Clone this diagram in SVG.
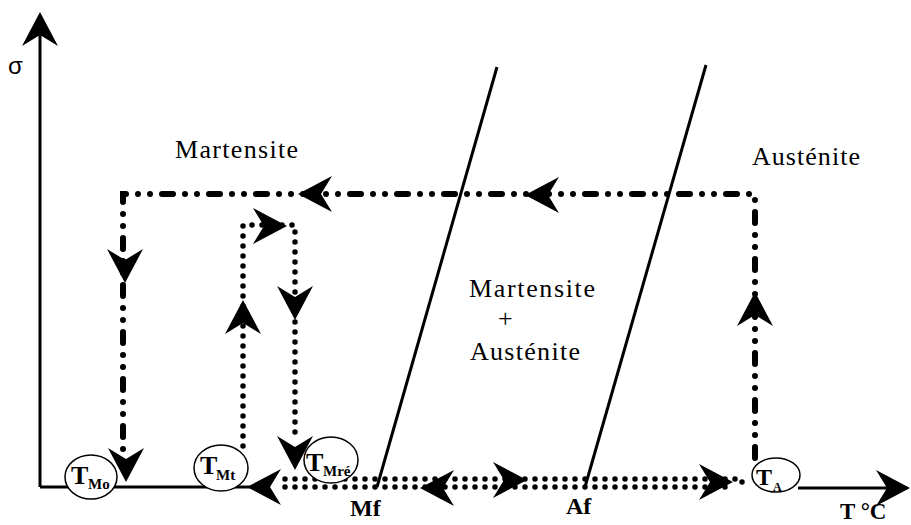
<svg xmlns="http://www.w3.org/2000/svg" xmlns:xlink="http://www.w3.org/1999/xlink" width="911" height="525" viewBox="0 0 911 525">
<style>
.ax{stroke:#000;stroke-width:3;fill:none}
.sl{stroke:#000;stroke-width:3;fill:none}
.dd{stroke:#000;stroke-width:6;fill:none;stroke-linecap:round;stroke-dasharray:11 12 0 12 0 12}
.dt{stroke:#000;stroke-width:5.5;fill:none;stroke-linecap:round;stroke-dasharray:0 10}
.el{stroke:#000;stroke-width:1.5;fill:#fff}
.lbl{font-family:"Liberation Serif","Times New Roman",serif;font-size:26px;fill:#000}
.b{font-family:"Liberation Serif","Times New Roman",serif;font-weight:bold;fill:#000}
.ah{fill:#000}
</style>
<defs>
<path id="ah" d="M0,0 L-34,-18 L-23,0 L-34,18 Z"/>
</defs>
<g id="axes">
<path class="ax" d="M40,487 V32"/>
<use xlink:href="#ah" class="ah" transform="translate(40,12) rotate(-90)"/>
<path class="ax" d="M40,487 H250"/>
<path class="ax" d="M798,488 H892"/>
<use xlink:href="#ah" class="ah" transform="translate(910,488)"/>
<text x="8" y="74" style="font-family:'Liberation Sans',Arial,sans-serif;font-size:24px">σ</text>
<text class="b" x="840" y="519" style="font-size:23px">T °C</text>
</g>
<g id="phase-lines">
<path class="sl" d="M377,487 L497,67"/>
<path class="sl" d="M585,487 L706,65"/>
<text class="b" x="350" y="516" style="font-size:24px">Mf</text>
<text class="b" x="566" y="514" style="font-size:24px">Af</text>
</g>
<g id="regions">
<text class="lbl" x="175" y="158" textLength="123">Martensite</text>
<text class="lbl" x="752" y="165" textLength="108">Austénite</text>
<text class="lbl" x="469" y="297" textLength="126">Martensite</text>
<text class="lbl" x="498" y="327">+</text>
<text class="lbl" x="470" y="360" textLength="110">Austénite</text>
</g>
<g id="connectors">
<path class="dd" d="M755,458 V194 H123 V462"/>
<path class="dt" d="M243,446 V225 H295 V440"/>
<path class="dt" d="M285,479 H745"/>
<path class="dt" d="M285,487 H735"/>
<path class="dt" d="M742,482 H750"/>
<use xlink:href="#ah" class="ah" transform="translate(298,194) rotate(180)"/>
<use xlink:href="#ah" class="ah" transform="translate(525,195) rotate(180)"/>
<use xlink:href="#ah" class="ah" transform="translate(125,283) rotate(90)"/>
<use xlink:href="#ah" class="ah" transform="translate(126,482) rotate(90)"/>
<use xlink:href="#ah" class="ah" transform="translate(755,292) rotate(-90)"/>
<use xlink:href="#ah" class="ah" transform="translate(287,226)"/>
<use xlink:href="#ah" class="ah" transform="translate(243,300) rotate(-90)"/>
<use xlink:href="#ah" class="ah" transform="translate(295,320) rotate(90)"/>
<use xlink:href="#ah" class="ah" transform="translate(295,470) rotate(90)"/>
<use xlink:href="#ah" class="ah" transform="translate(247,487) rotate(180)"/>
<use xlink:href="#ah" class="ah" transform="translate(420,488) rotate(180)"/>
<use xlink:href="#ah" class="ah" transform="translate(527,480)"/>
<use xlink:href="#ah" class="ah" transform="translate(733,482)"/>
</g>
<g id="node-TMo">
<ellipse class="el" cx="91" cy="477" rx="26" ry="22"/>
<text class="b" x="71" y="484" style="font-size:26px">T</text>
<text class="b" x="88" y="489" style="font-size:15px">Mo</text>
</g>
<g id="node-TMt">
<ellipse class="el" cx="221" cy="468" rx="27" ry="23"/>
<text class="b" x="200" y="474" style="font-size:26px">T</text>
<text class="b" x="216" y="480" style="font-size:15px">Mt</text>
</g>
<g id="node-TMre">
<ellipse class="el" cx="331" cy="460" rx="27" ry="23"/>
<text class="b" x="306" y="471" style="font-size:26px">T</text>
<text class="b" x="323" y="476" style="font-size:15px">Mré</text>
</g>
<g id="node-TA">
<ellipse class="el" cx="776" cy="475" rx="24" ry="17"/>
<text class="b" x="756" y="485" style="font-size:24px">T</text>
<text class="b" x="773" y="491" style="font-size:12px">A</text>
</g>
</svg>
